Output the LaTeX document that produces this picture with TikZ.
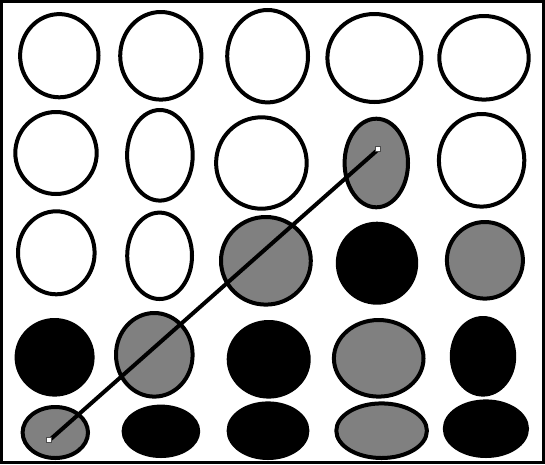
\documentclass[tikz,border=0pt]{standalone}
\pgfdeclarelayer{front}
\pgfsetlayers{main,front}
\tikzset{
  ring/.style={draw=black, line width=4pt},
  hollow/.style={ring, fill=white},
  grayfill/.style={ring, fill=gray},
  blackfill/.style={ring, fill=black},
  marker/.style={draw=black!70, fill=white, line width=1pt, inner sep=0pt, minimum size=5pt, rectangle},
  link/.style={draw=black, line width=4pt}
}
\begin{document}
\begin{tikzpicture}[x=1pt,y=-1pt]
\useasboundingbox (0,0) rectangle (545,464);
\fill[white] (0,0) rectangle (545,464);
\draw[line width=3pt] (1.5,1.5) rectangle (543.5,462.5);
% row 1
\draw[hollow] (59.3,55.7) ellipse [x radius=39.2, y radius=41.6];
\draw[hollow] (160.8,55.8) ellipse [x radius=40.6, y radius=43.8];
\draw[hollow] (267.6,56.2) ellipse [x radius=40.4, y radius=46.2];
\draw[hollow] (374.4,58) ellipse [x radius=47, y radius=44];
\draw[hollow] (484,57.8) ellipse [x radius=44.7, y radius=41.8];
% row 2
\draw[hollow] (56,153) ellipse [x radius=40.7, y radius=41];
\draw[hollow] (159.9,155.3) ellipse [x radius=32.8, y radius=45.3];
\draw[hollow] (261.4,163) ellipse [x radius=45.3, y radius=45.7];
\draw[grayfill] (376.3,163) ellipse [x radius=31.7, y radius=44.3];
\draw[hollow] (481.6,160.3) ellipse [x radius=42.7, y radius=46.3];
% row 3
\draw[hollow] (56.3,252.8) ellipse [x radius=38.3, y radius=41.5];
\draw[hollow] (159.6,255.8) ellipse [x radius=32.4, y radius=43.2];
\draw[grayfill] (265.9,260.8) ellipse [x radius=44.9, y radius=43.8];
\draw[blackfill] (377,263.2) ellipse [x radius=39.2, y radius=39.5];
\draw[grayfill] (484.9,260.3) ellipse [x radius=38, y radius=38.3];
% row 4
\draw[blackfill] (54.6,357.3) ellipse [x radius=38, y radius=37.3];
\draw[grayfill] (154.3,354.8) ellipse [x radius=38.3, y radius=41.8];
\draw[blackfill] (268.7,359.3) ellipse [x radius=40, y radius=37.3];
\draw[grayfill] (378.7,358.3) ellipse [x radius=44.8, y radius=38.3];
\draw[blackfill] (483,356.3) ellipse [x radius=31.2, y radius=38.3];
% row 5
\draw[grayfill] (55.3,432.5) ellipse [x radius=32.7, y radius=25.5];
\draw[blackfill] (160.9,431.3) ellipse [x radius=37.3, y radius=24.7];
\draw[blackfill] (268,430.7) ellipse [x radius=39.4, y radius=27.3];
\draw[grayfill] (381.6,430.7) ellipse [x radius=45.3, y radius=27.3];
\draw[blackfill] (485.9,428.7) ellipse [x radius=41.1, y radius=27.3];
% markers and link
\begin{pgfonlayer}{front}
\node[marker] (m1) at (49.3,440.3) {};
\node[marker] (m2) at (378.3,149.3) {};
\end{pgfonlayer}
\draw[link] (m1.center) -- (m2.center);
\end{tikzpicture}
\end{document}
